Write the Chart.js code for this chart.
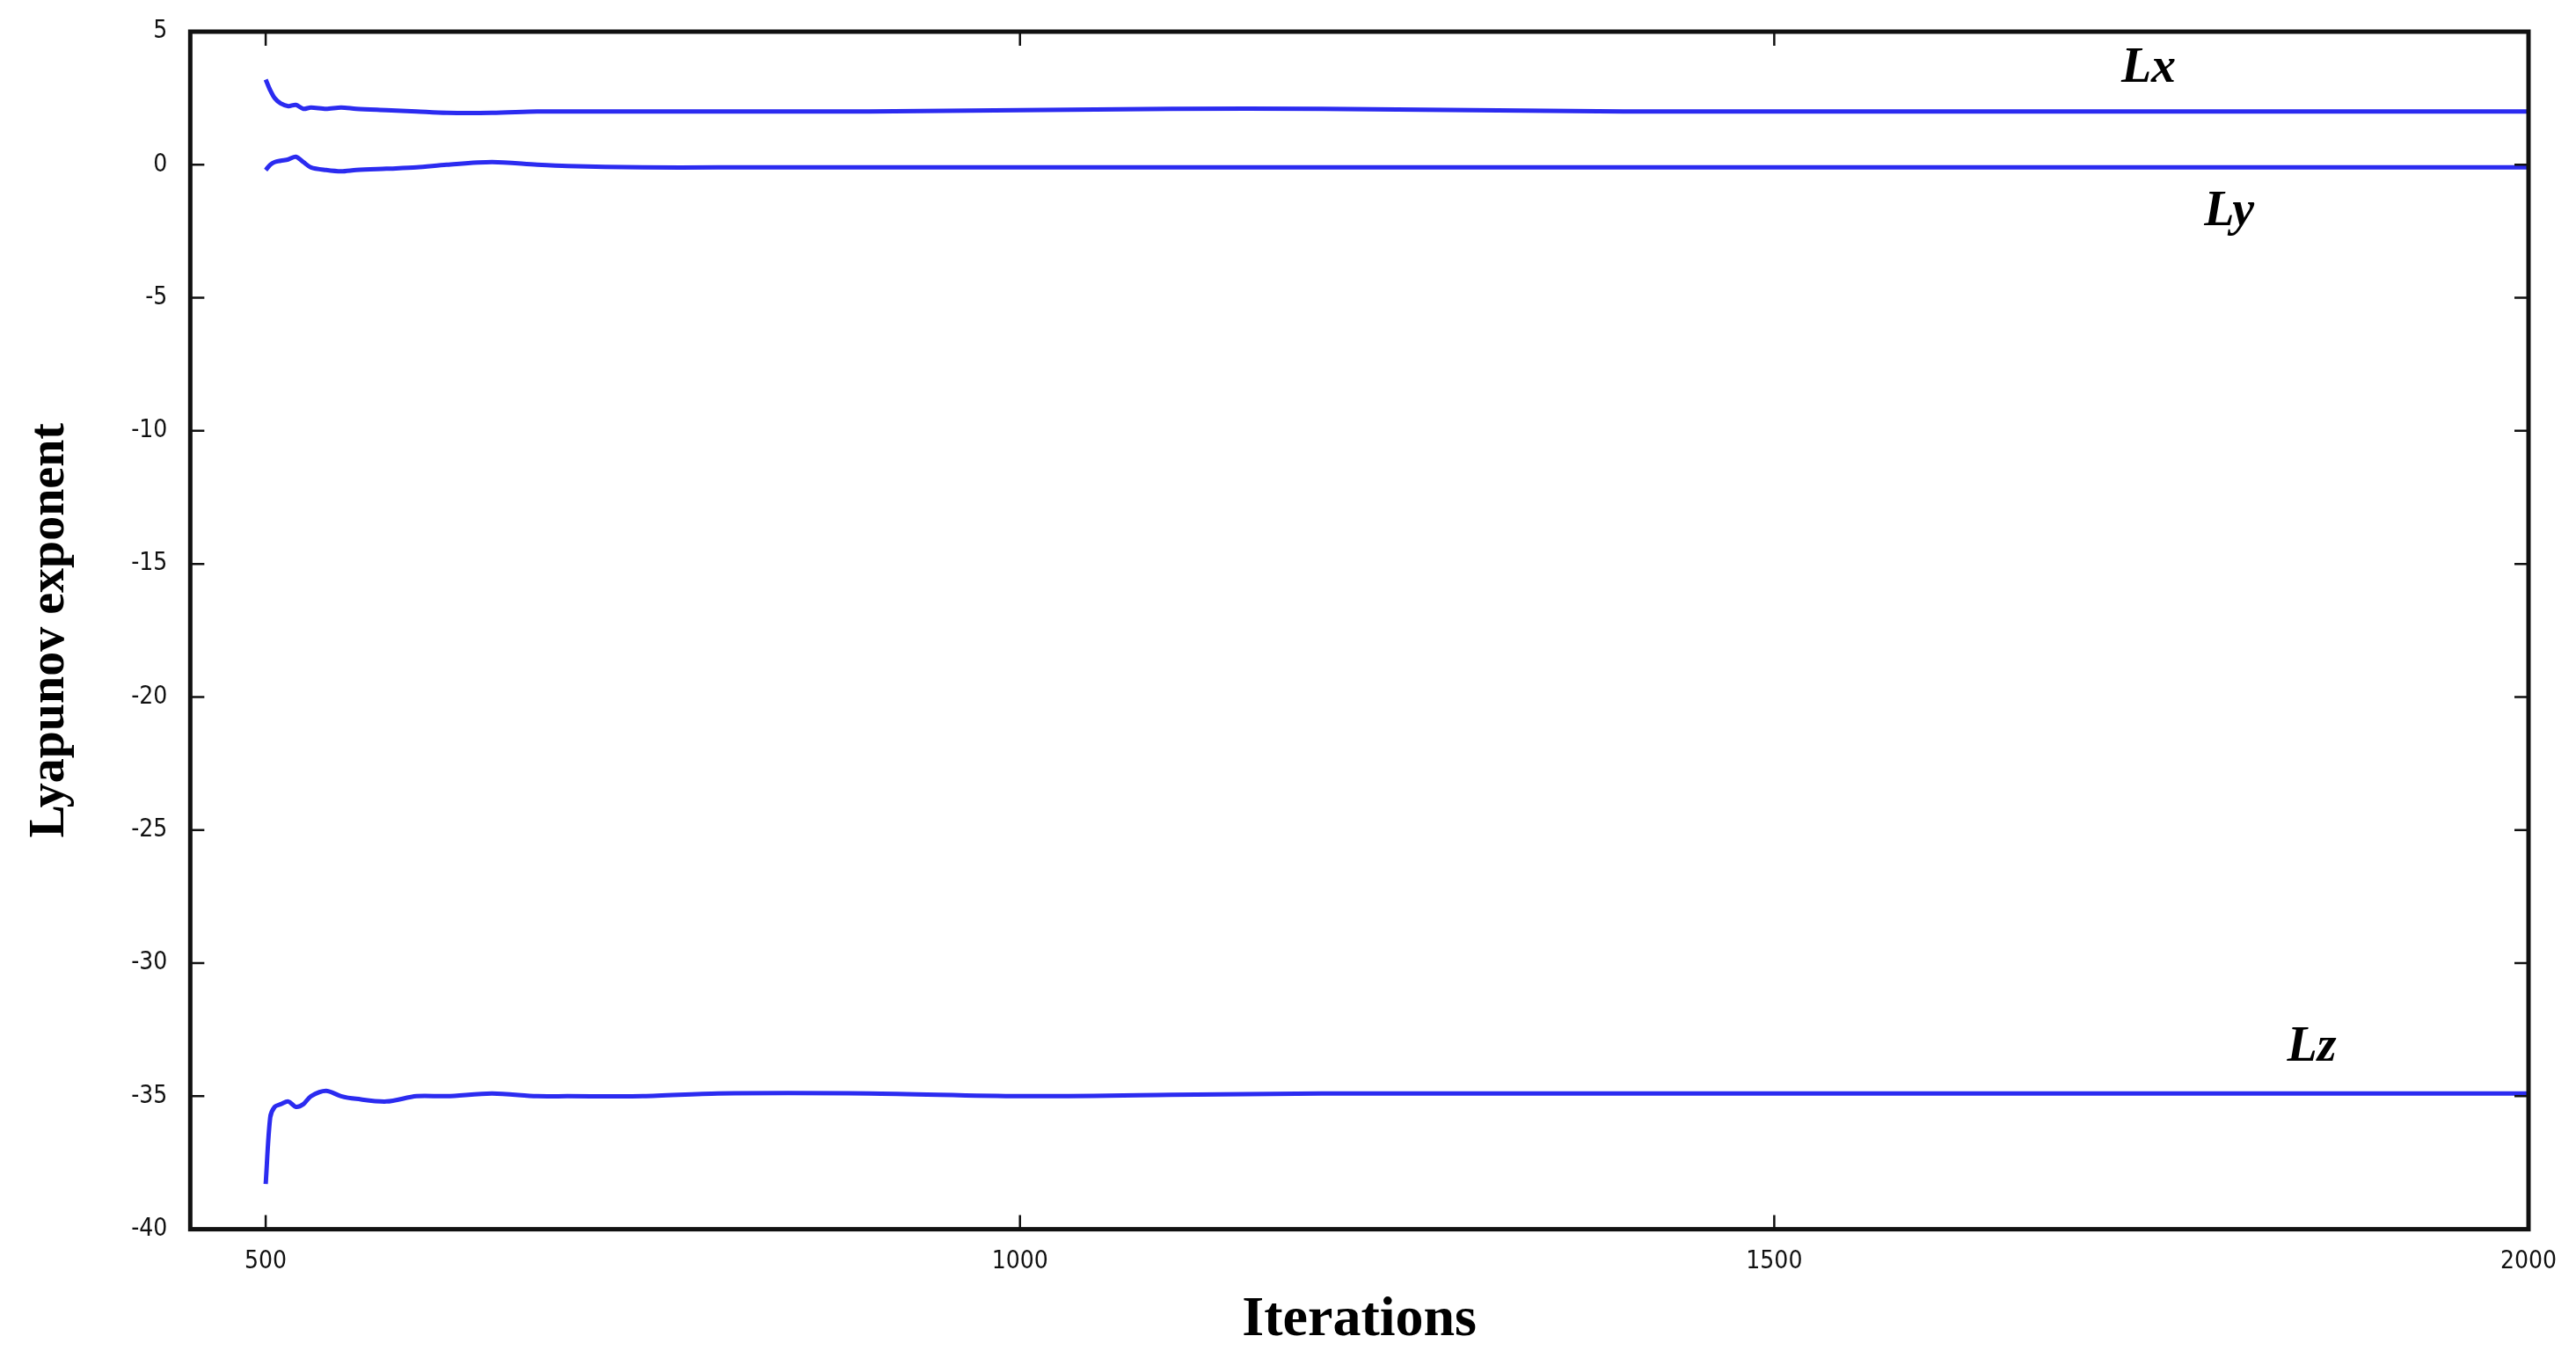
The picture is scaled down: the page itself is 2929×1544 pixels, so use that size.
<!DOCTYPE html>
<html lang="en">
<head>
<meta charset="UTF-8">
<title>Lyapunov exponent</title>
<script src="https://cdn.jsdelivr.net/npm/chart.js@4.4.4/dist/chart.umd.min.js"></script>
<style>
  html, body { margin: 0; padding: 0; background: #fff; }
  #wrap { width: 2929px; height: 1544px; }
</style>
</head>
<body>
<div id="wrap"><canvas id="chart"></canvas></div>
<script>
// Data
const iterations = [500, 503, 506, 510, 515, 520, 525, 530, 540, 550, 560, 580, 600, 620, 650, 680, 700, 750, 800, 900, 1000, 1100, 1200, 1300, 1400, 1500, 1600, 1700, 1800, 1900, 2000];
const lxValues = [3.2, 2.8, 2.5, 2.3, 2.2, 2.25, 2.1, 2.15, 2.1, 2.15, 2.1, 2.05, 2.0, 1.95, 1.95, 2.0, 2.0, 2.0, 2.0, 2.0, 2.05, 2.1, 2.1, 2.05, 2.0, 2.0, 2.0, 2.0, 2.0, 2.0, 2.0];
const lyValues = [-0.2, 0.0, 0.1, 0.15, 0.2, 0.3, 0.1, -0.1, -0.2, -0.25, -0.2, -0.15, -0.1, 0.0, 0.1, 0.0, -0.05, -0.1, -0.1, -0.1, -0.1, -0.1, -0.1, -0.1, -0.1, -0.1, -0.1, -0.1, -0.1, -0.1, -0.1];
const lzValues = [-38.3, -35.8, -35.4, -35.3, -35.2, -35.4, -35.3, -35.0, -34.8, -35.0, -35.1, -35.2, -35.0, -35.0, -34.9, -35.0, -35.0, -35.0, -34.9, -34.9, -35.0, -34.95, -34.9, -34.9, -34.9, -34.9, -34.9, -34.9, -34.9, -34.9, -34.9];
const xTicks = [500, 1000, 1500, 2000];
const yTicks = [5, 0, -5, -10, -15, -20, -25, -30, -35, -40];
const curveLabels = [
  { text: 'Lx', x: 1730, y: 3.6 },
  { text: 'Ly', x: 1785, y: -1.8 },
  { text: 'Lz', x: 1840, y: -33.2 }
];

const toPoints = vals => vals.map((v, i) => ({ x: iterations[i], y: v }));

// box, inward ticks and curve labels
const framePlugin = {
  id: 'frame',
  afterDraw(chart) {
    const { ctx, chartArea: a, scales: { x, y } } = chart;
    ctx.save();
    ctx.strokeStyle = '#111';
    ctx.lineWidth = 5;
    ctx.strokeRect(a.left, a.top, a.right - a.left, a.bottom - a.top);
    ctx.lineWidth = 2.5;
    xTicks.forEach(t => {
      const px = x.getPixelForValue(t);
      ctx.beginPath();
      ctx.moveTo(px, a.bottom); ctx.lineTo(px, a.bottom - 16);
      ctx.moveTo(px, a.top); ctx.lineTo(px, a.top + 16);
      ctx.stroke();
    });
    yTicks.forEach(t => {
      const py = y.getPixelForValue(t);
      ctx.beginPath();
      ctx.moveTo(a.left, py); ctx.lineTo(a.left + 16, py);
      ctx.moveTo(a.right, py); ctx.lineTo(a.right - 16, py);
      ctx.stroke();
    });
    ctx.fillStyle = '#000';
    ctx.font = 'italic bold 56px "Liberation Serif", serif';
    ctx.textAlign = 'left';
    ctx.textBaseline = 'middle';
    curveLabels.forEach(l => {
      ctx.fillText(l.text, x.getPixelForValue(l.x), y.getPixelForValue(l.y));
    });
    ctx.restore();
  }
};

const lineStyle = { borderColor: '#2b2bf0', borderWidth: 5, pointRadius: 0, tension: 0.3, fill: false };
const tickFont = { family: '"Liberation Sans Narrow", "DejaVu Sans Condensed", sans-serif', size: 28 };

new Chart(document.getElementById('chart'), {
  type: 'line',
  data: {
    datasets: [
      { label: 'Lx', data: toPoints(lxValues), ...lineStyle },
      { label: 'Ly', data: toPoints(lyValues), ...lineStyle },
      { label: 'Lz', data: toPoints(lzValues), ...lineStyle }
    ]
  },
  options: {
    responsive: true,
    maintainAspectRatio: false,
    animation: false,
    layout: { padding: { top: 36, right: 54, left: 20, bottom: 0 } },
    plugins: { legend: { display: false }, tooltip: { enabled: false } },
    scales: {
      x: {
        type: 'linear', min: 450, max: 2000,
        afterBuildTicks: s => { s.ticks = xTicks.map(v => ({ value: v })); },
        grid: { display: false },
        border: { display: false },
        ticks: { color: '#111', font: tickFont, padding: 12, callback: v => String(v) },
        title: { display: true, text: 'Iterations', color: '#000', font: { family: '"Liberation Serif", serif', size: 64, weight: 'bold' }, padding: { top: 0 } }
      },
      y: {
        type: 'linear', min: -40, max: 5,
        afterBuildTicks: s => { s.ticks = yTicks.map(v => ({ value: v })); },
        grid: { display: false },
        border: { display: false },
        ticks: { color: '#111', font: tickFont, padding: 18, callback: v => String(v) },
        title: { display: true, text: 'Lyapunov exponent', color: '#000', font: { family: '"Liberation Serif", serif', size: 56, weight: 'bold' }, padding: { bottom: 40 } }
      }
    }
  },
  plugins: [framePlugin]
});
</script>
</body>
</html>
